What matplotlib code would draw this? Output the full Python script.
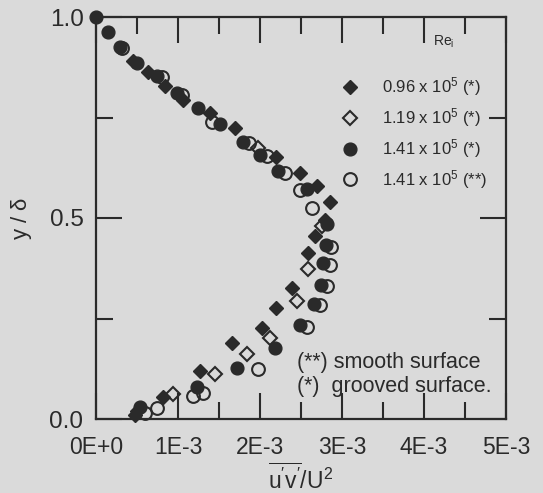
import matplotlib
matplotlib.use("Agg")
import matplotlib.pyplot as plt
from matplotlib.ticker import MultipleLocator, FixedLocator, FixedFormatter

plt.rcParams['font.family'] = ['Liberation Sans', 'DejaVu Sans']
plt.rcParams['mathtext.fontset'] = 'custom'
plt.rcParams['mathtext.rm'] = 'Liberation Sans'
plt.rcParams['mathtext.it'] = 'Liberation Sans'
plt.rcParams['mathtext.default'] = 'regular'

# x values in units of 1E-3 ; y = y/delta
fd_x = [0.45, 0.63, 0.84, 1.06, 1.39, 1.70, 2.20, 2.49, 2.70, 2.85, 2.79, 2.67, 2.59, 2.39, 2.20, 2.02, 1.66, 1.27, 0.82, 0.50, 0.47]
fd_y = [0.890, 0.863, 0.828, 0.793, 0.760, 0.723, 0.651, 0.613, 0.580, 0.539, 0.496, 0.456, 0.414, 0.326, 0.277, 0.227, 0.190, 0.120, 0.055, 0.020, 0.010]

od_x = [1.98, 2.76, 2.59, 2.45, 2.12, 1.84, 1.45, 0.94]
od_y = [0.675, 0.481, 0.374, 0.294, 0.202, 0.162, 0.112, 0.062]

fc_x = [0.00, 0.15, 0.29, 0.50, 0.74, 0.99, 1.24, 1.51, 1.79, 2.00, 2.22, 2.57, 2.82, 2.80, 2.77, 2.74, 2.66, 2.49, 2.18, 1.72, 1.23, 0.54]
fc_y = [1.000, 0.963, 0.926, 0.885, 0.853, 0.810, 0.773, 0.733, 0.690, 0.656, 0.618, 0.573, 0.486, 0.434, 0.387, 0.334, 0.287, 0.234, 0.177, 0.127, 0.080, 0.030]

oc_x = [0.32, 0.80, 1.05, 1.41, 1.86, 2.08, 2.30, 2.49, 2.63, 2.86, 2.85, 2.82, 2.73, 2.57, 1.98, 1.30, 1.18, 0.74, 0.60]
oc_y = [0.924, 0.850, 0.805, 0.738, 0.686, 0.654, 0.613, 0.569, 0.524, 0.428, 0.382, 0.330, 0.283, 0.230, 0.125, 0.065, 0.057, 0.027, 0.015]

series_labels = [r"0.96 x 10$^{5}$ (*)", r"1.19 x 10$^{5}$ (*)",
                 r"1.41 x 10$^{5}$ (*)", r"1.41 x 10$^{5}$ (**)"]

x_ticks = [0, 1, 2, 3, 4, 5]
x_ticklabels = ["0E+0", "1E-3", "2E-3", "3E-3", "4E-3", "5E-3"]
y_ticks = [0.0, 0.5, 1.0]
y_ticklabels = ["0.0", "0.5", "1.0"]

bg = '#dadada'
ink = '#2a2a2a'

fig = plt.figure(figsize=(5.43, 4.93), dpi=100, facecolor=bg)
ax = fig.add_axes([96/543, 1-419/493, 410/543, 402/493])
ax.set_facecolor(bg)

ms_c = 9.2
ms_d = 7.4
h1, = ax.plot(fd_x, fd_y, 'D', ms=ms_d, mfc=ink, mec=ink, mew=1.0, ls='none', clip_on=False)
h2, = ax.plot(od_x, od_y, 'D', ms=ms_d, mfc='none', mec=ink, mew=1.5, ls='none', clip_on=False)
h3, = ax.plot(fc_x, fc_y, 'o', ms=ms_c, mfc=ink, mec=ink, mew=1.0, ls='none', clip_on=False)
h4, = ax.plot(oc_x, oc_y, 'o', ms=ms_c, mfc='none', mec=ink, mew=1.5, ls='none', clip_on=False)

ax.set_xlim(0, 5)
ax.set_ylim(0, 1.0)

ax.xaxis.set_major_locator(FixedLocator(x_ticks))
ax.xaxis.set_major_formatter(FixedFormatter(x_ticklabels))
ax.xaxis.set_minor_locator(MultipleLocator(0.5))
ax.yaxis.set_major_locator(FixedLocator(y_ticks))
ax.yaxis.set_major_formatter(FixedFormatter(y_ticklabels))
ax.yaxis.set_minor_locator(MultipleLocator(0.25))

ax.tick_params(which='both', direction='in', top=True, right=True, color=ink, width=1.5)
ax.tick_params(which='major', length=19)
ax.tick_params(which='minor', length=12)
ax.tick_params(axis='x', which='major', labelsize=16.5, pad=12, labelcolor=ink)
ax.tick_params(axis='y', which='major', labelsize=17.5, pad=9, labelcolor=ink)

for sp in ax.spines.values():
    sp.set_color(ink)
    sp.set_linewidth(1.6)

ax.set_xlabel(r"$\overline{u'v'}/U^2$", fontsize=16.5, color=ink)
ax.xaxis.set_label_coords(0.5, -0.11)
ax.set_ylabel(r"y / $\delta$", fontsize=16, color=ink)
ax.yaxis.set_label_coords(-0.15, 0.5)

leg = ax.legend([h1, h2, h3, h4], series_labels, loc='upper left',
                bbox_to_anchor=(0.595, 0.855), frameon=False, fontsize=12,
                handletextpad=1.3, labelspacing=0.48, handlelength=1.2,
                borderpad=0.0, borderaxespad=0.0)
for t in leg.get_texts():
    t.set_color(ink)

ax.text(4.11, 0.938, r"Re$_{i}$", fontsize=10, color=ink, ha='left', va='center')

ax.text(2.45, 0.14, "(**) smooth surface", fontsize=15.5, color=ink, ha='left', va='center')
ax.text(2.45, 0.082, "(*)  grooved surface.", fontsize=15.5, color=ink, ha='left', va='center')

fig.savefig("out.png", dpi=100, facecolor=bg)
